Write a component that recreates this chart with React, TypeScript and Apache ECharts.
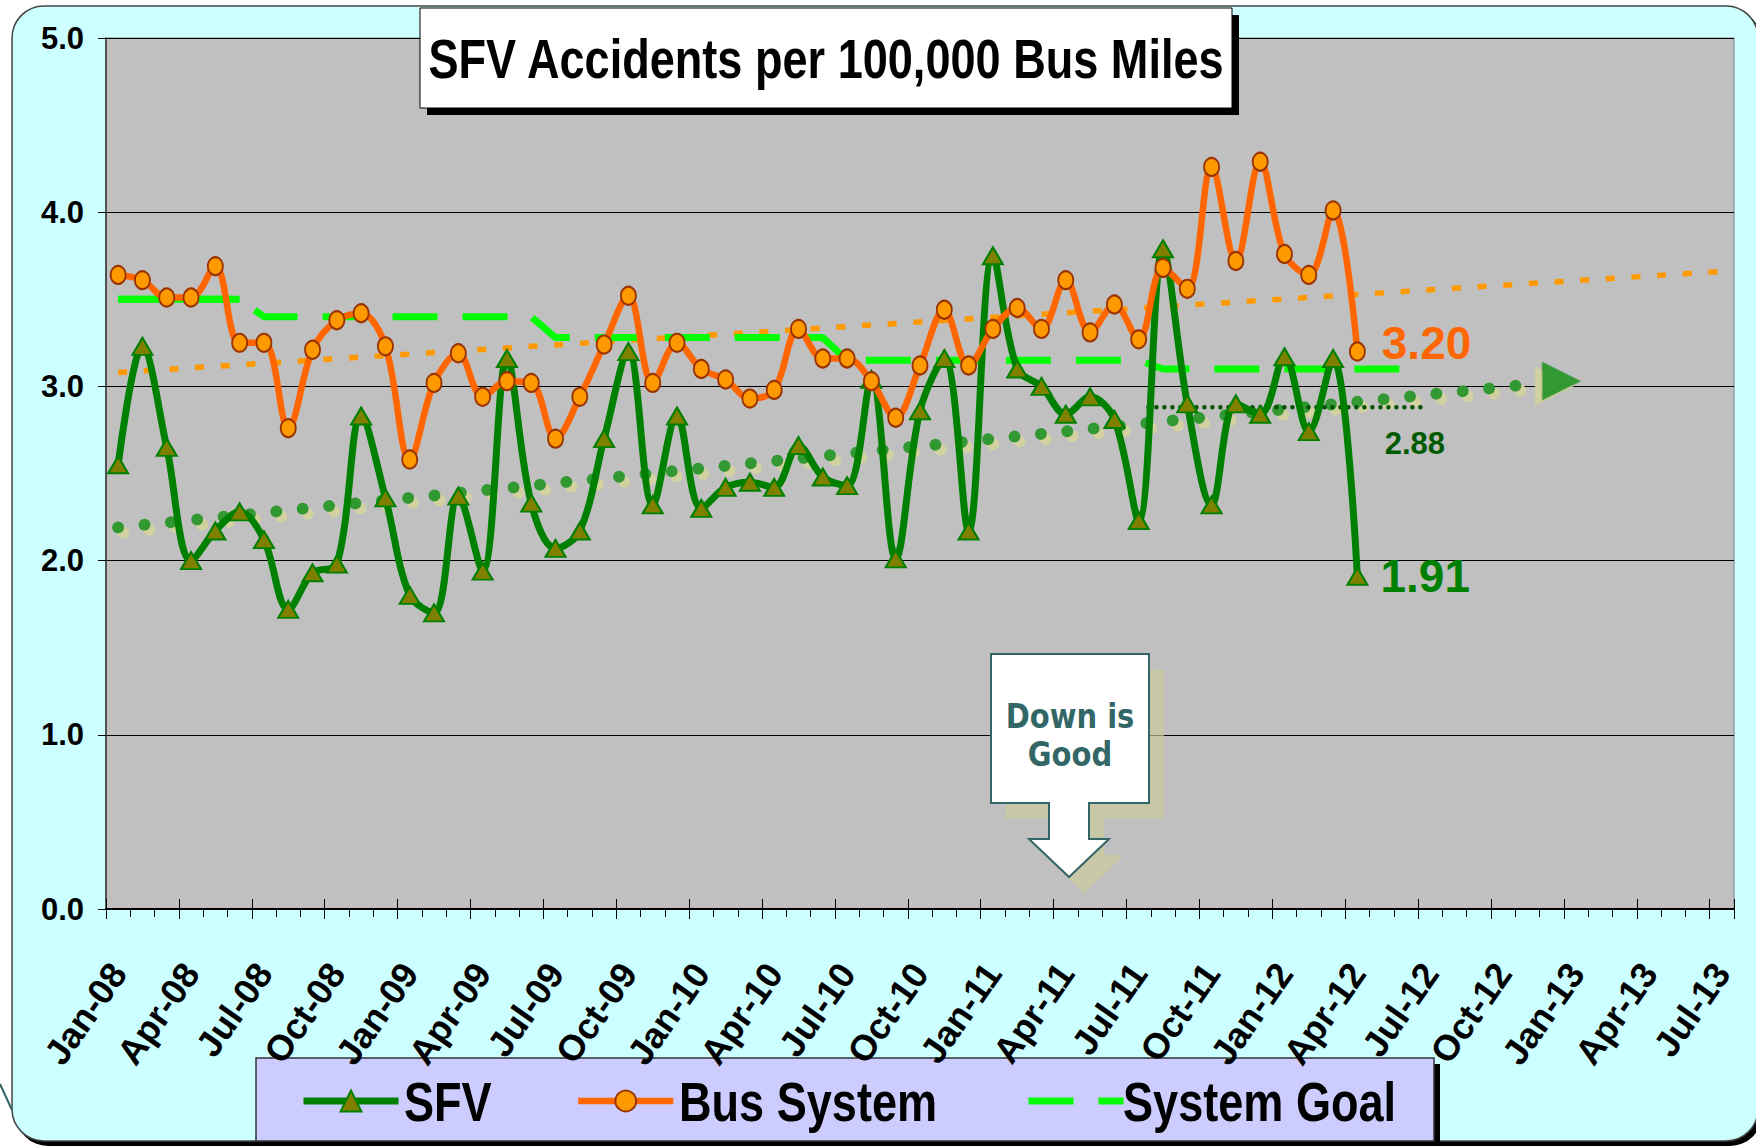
import React, { useEffect, useRef } from 'react';
import * as echarts from 'echarts';

const months = [
  'Jan-08', 'Feb-08', 'Mar-08', 'Apr-08', 'May-08', 'Jun-08', 'Jul-08', 'Aug-08', 'Sep-08', 'Oct-08', 'Nov-08', 'Dec-08',
  'Jan-09', 'Feb-09', 'Mar-09', 'Apr-09', 'May-09', 'Jun-09', 'Jul-09', 'Aug-09', 'Sep-09', 'Oct-09', 'Nov-09', 'Dec-09',
  'Jan-10', 'Feb-10', 'Mar-10', 'Apr-10', 'May-10', 'Jun-10', 'Jul-10', 'Aug-10', 'Sep-10', 'Oct-10', 'Nov-10', 'Dec-10',
  'Jan-11', 'Feb-11', 'Mar-11', 'Apr-11', 'May-11', 'Jun-11', 'Jul-11', 'Aug-11', 'Sep-11', 'Oct-11', 'Nov-11', 'Dec-11',
  'Jan-12', 'Feb-12', 'Mar-12', 'Apr-12', 'May-12', 'Jun-12', 'Jul-12', 'Aug-12', 'Sep-12', 'Oct-12', 'Nov-12', 'Dec-12',
  'Jan-13', 'Feb-13', 'Mar-13', 'Apr-13', 'May-13', 'Jun-13', 'Jul-13',
];

const sfv = [
  2.55, 3.23, 2.65, 2.0, 2.17, 2.28, 2.12, 1.72, 1.93, 1.98, 2.83, 2.36,
  1.8, 1.7, 2.37, 1.94, 3.16, 2.33, 2.07, 2.17, 2.7, 3.2, 2.32, 2.83,
  2.3, 2.42, 2.45, 2.42, 2.66, 2.48, 2.43, 3.04, 2.01, 2.86, 3.16, 2.17,
  3.75, 3.1, 3.0, 2.84, 2.94, 2.81, 2.23, 3.79, 2.9, 2.32, 2.9, 2.84,
  3.17, 2.74, 3.16, 1.91,
];

const busSystem = [
  3.64, 3.61, 3.51, 3.51, 3.69, 3.25, 3.25, 2.76, 3.21, 3.38, 3.42, 3.23,
  2.58, 3.02, 3.19, 2.94, 3.03, 3.02, 2.7, 2.94, 3.24, 3.52, 3.02, 3.25,
  3.1, 3.04, 2.93, 2.98, 3.33, 3.16, 3.16, 3.03, 2.82, 3.12, 3.44, 3.12,
  3.33, 3.45, 3.33, 3.61, 3.31, 3.47, 3.27, 3.68, 3.56, 4.26, 3.72, 4.29,
  3.76, 3.64, 4.01, 3.2,
];

const systemGoal = [
  3.5, 3.5, 3.5, 3.5, 3.5, 3.5,
  3.4, 3.4, 3.4, 3.4, 3.4, 3.4, 3.4, 3.4, 3.4, 3.4, 3.4, 3.4,
  3.28, 3.28, 3.28, 3.28, 3.28, 3.28, 3.28, 3.28, 3.28, 3.28, 3.28, 3.28,
  3.15, 3.15, 3.15, 3.15, 3.15, 3.15, 3.15, 3.15, 3.15, 3.15, 3.15, 3.15, 3.15,
  3.1, 3.1, 3.1, 3.1, 3.1, 3.1, 3.1, 3.1, 3.1, 3.1, 3.1,
];
const goalSolidCount = 6;

// trend lines, positions in month index (0 = Jan-08)
const busTrendX = [0, 66];
const busTrendY = [3.08, 3.66];
const sfvTrendX = [0, 59.4];
const sfvTrendY = [2.19, 3.03];
const sfvAvgX = [42.4, 53.9];
const sfvAvgY = [2.88, 2.88];

const yTicks = [0, 1, 2, 3, 4, 5];
const legendNames = ['SFV', 'Bus System', 'System Goal'];

const SANS = "'Liberation Sans', Arial, sans-serif";
const VERD = "'DejaVu Sans', Verdana, sans-serif";

const pairs = (xs: number[], ys: number[]) => xs.map((x, i) => [x, ys[i]]);

function buildOption() {
  const lastIdx = sfv.length - 1;
  const sfvData = sfv.map((v, i) =>
    i === lastIdx
      ? {
          value: v,
          label: {
            show: true,
            position: 'right',
            distance: 12,
            formatter: (p: any) => Number(p.value).toFixed(2),
            fontFamily: SANS,
            fontWeight: 'bold',
            fontSize: 46,
            color: '#008000',
          },
        }
      : v,
  );
  const busData = busSystem.map((v, i) =>
    i === busSystem.length - 1
      ? {
          value: v,
          label: {
            show: true,
            position: 'right',
            distance: 16,
            offset: [0, -9],
            formatter: (p: any) => Number(p.value).toFixed(2),
            fontFamily: SANS,
            fontWeight: 'bold',
            fontSize: 46,
            color: '#FF6600',
          },
        }
      : v,
  );
  const goalSolid = systemGoal.slice(0, goalSolidCount);

  const sfvTrend = pairs(sfvTrendX, sfvTrendY).map((p, i, arr) =>
    i === arr.length - 1
      ? {
          value: p,
          symbol: 'triangle',
          symbolSize: [39, 39],
          symbolRotate: -90,
          itemStyle: {
            color: '#339933',
            shadowColor: '#d2d2a0',
            shadowOffsetX: 5,
            shadowOffsetY: 7,
            shadowBlur: 0,
          },
        }
      : { value: p, symbol: 'none' },
  );

  const avgData = pairs(sfvAvgX, sfvAvgY).map((p, i, arr) =>
    i === arr.length - 1
      ? {
          value: p,
          symbol: 'circle',
          symbolSize: 2,
          itemStyle: { color: 'rgba(0,0,0,0)' },
          label: {
            show: true,
            position: 'bottom',
            distance: 20,
            offset: [-13, 0],
            formatter: (q: any) => Number(q.value[1]).toFixed(2),
            fontFamily: SANS,
            fontWeight: 'bold',
            fontSize: 31,
            color: '#005a00',
            textShadowColor: '#d2d2a0',
            textShadowOffsetX: 6,
            textShadowOffsetY: 5,
            textShadowBlur: 0,
          },
        }
      : { value: p, symbol: 'none' },
  );

  const callout = [
    [991, 654], [1149, 654], [1149, 803], [1089, 803], [1089, 839], [1109, 839],
    [1069, 877], [1029, 839], [1049, 839], [1049, 803], [991, 803],
  ];
  const calloutShadow = callout.map(([x, y]) => [x + 15, y + 16]);

  const catAxisBase = {
    type: 'category',
    data: months,
    gridIndex: 0,
    position: 'bottom',
    boundaryGap: true,
  };

  const legendIconLeft = [300, 575, 1025];
  const legendTextLeft = [404, 679, 1123];
  const legendCommon = {
    top: 1088,
    padding: 0,
    itemWidth: 95,
    itemHeight: 26,
    selectedMode: false,
    z: 10,
    formatter: () => '',
    lineStyle: { width: 'inherit' },
    textStyle: { fontSize: 12 },
  };

  return {
    animation: false,
    backgroundColor: '#ffffff',
    textStyle: { fontFamily: SANS },
    grid: {
      left: 106,
      top: 38,
      width: 1628,
      height: 871,
      show: true,
      backgroundColor: '#C0C0C0',
      borderColor: '#808080',
      borderWidth: 1,
      z: 0,
    },
    xAxis: [
      {
        ...catAxisBase,
        axisLine: { show: true, onZero: false, lineStyle: { color: '#000', width: 2 } },
        axisTick: { show: true, interval: 2, length: 10, lineStyle: { color: '#000', width: 1 } },
        axisLabel: {
          interval: 2,
          rotate: 55,
          margin: 58,
          fontFamily: SANS,
          fontWeight: 'bold',
          fontSize: 36,
          color: '#000',
        },
        splitLine: { show: false },
      },
      {
        ...catAxisBase,
        axisLine: { show: false, onZero: false },
        axisTick: { show: true, interval: 0, length: 8, lineStyle: { color: '#000', width: 1 } },
        axisLabel: { show: false },
        splitLine: { show: false },
      },
      {
        ...catAxisBase,
        axisLine: { show: false, onZero: false },
        axisTick: { show: true, inside: true, interval: 2, length: 10, lineStyle: { color: '#000', width: 1 } },
        axisLabel: { show: false },
        splitLine: { show: false },
      },
      {
        type: 'value',
        gridIndex: 0,
        position: 'top',
        min: -0.5,
        max: 66.5,
        show: false,
        axisLine: { onZero: false },
        splitLine: { show: false },
      },
    ],
    yAxis: {
      type: 'value',
      min: yTicks[0],
      max: yTicks[yTicks.length - 1],
      interval: 1,
      axisLine: { show: true, onZero: false, lineStyle: { color: '#333', width: 1.5 } },
      axisTick: { show: true, length: 8, lineStyle: { color: '#000', width: 1 } },
      axisLabel: {
        margin: 22,
        formatter: (v: number) => v.toFixed(1),
        fontFamily: SANS,
        fontWeight: 'bold',
        fontSize: 31,
        color: '#000',
      },
      splitLine: { show: true, lineStyle: { color: '#000', width: 1 } },
    },
    legend: legendNames.map((n, i) => ({ ...legendCommon, data: [n], left: legendIconLeft[i] })),
    graphic: [
      { type: 'rect', z: -10, silent: true, shape: { x: 16, y: 10, width: 1746, height: 1136, r: 32 }, style: { fill: '#000' } },
      { type: 'rect', z: -9, silent: true, shape: { x: 12, y: 6, width: 1746, height: 1135, r: 32 }, style: { fill: '#CCFFFF', stroke: '#444', lineWidth: 1.5 } },
      { type: 'line', z: -8, silent: true, shape: { x1: 0, y1: 1084, x2: 12, y2: 1110 }, style: { stroke: '#336666', lineWidth: 2 } },
      // legend box
      { type: 'rect', z: -5, silent: true, shape: { x: 262, y: 1064, width: 1178, height: 90 }, style: { fill: '#000' } },
      { type: 'rect', z: -4, silent: true, shape: { x: 256, y: 1058, width: 1178, height: 83 }, style: { fill: '#CCCCFF', stroke: '#333', lineWidth: 1.5 } },
      ...legendNames.map((n, i) => ({
        type: 'text', z: 11, silent: true, x: legendTextLeft[i], y: 1102, scaleX: 0.82,
        style: { text: n, fontFamily: SANS, fontWeight: 'bold', fontSize: 55, fill: '#000', textAlign: 'left', textVerticalAlign: 'middle' },
      })),
      // title
      { type: 'rect', z: 20, silent: true, shape: { x: 427, y: 15, width: 812, height: 100 }, style: { fill: '#000' } },
      { type: 'rect', z: 21, silent: true, shape: { x: 420, y: 8, width: 812, height: 100 }, style: { fill: '#fff', stroke: '#000', lineWidth: 1 } },
      {
        type: 'text', z: 22, silent: true, x: 826, y: 59, scaleX: 0.82,
        style: {
          text: 'SFV Accidents per 100,000 Bus Miles',
          fontFamily: SANS, fontWeight: 'bold', fontSize: 55, fill: '#000',
          textAlign: 'center', textVerticalAlign: 'middle',
        },
      },
      // Down is Good callout
      { type: 'polygon', z: 20, silent: true, shape: { points: calloutShadow }, style: { fill: 'rgba(204,204,153,0.65)' } },
      { type: 'polygon', z: 21, silent: true, shape: { points: callout }, style: { fill: '#fff', stroke: '#336666', lineWidth: 2 } },
      {
        type: 'text', z: 22, silent: true, x: 1070, y: 716, scaleY: 1.15,
        style: { text: 'Down is', fontFamily: VERD, fontWeight: 'bold', fontSize: 29, fill: '#336666', textAlign: 'center', textVerticalAlign: 'middle' },
      },
      {
        type: 'text', z: 22, silent: true, x: 1070, y: 754, scaleY: 1.15,
        style: { text: 'Good', fontFamily: VERD, fontWeight: 'bold', fontSize: 29, fill: '#336666', textAlign: 'center', textVerticalAlign: 'middle' },
      },
    ],
    series: [
      {
        name: 'Bus trend',
        type: 'line',
        xAxisIndex: 3,
        data: pairs(busTrendX, busTrendY),
        symbol: 'none',
        silent: true,
        z: 1,
        lineStyle: { color: '#FF9900', width: 5.5, type: [9, 16.7], cap: 'butt' },
      },
      {
        name: 'SFV trend',
        type: 'line',
        xAxisIndex: 3,
        data: sfvTrend,
        symbol: 'triangle',
        showSymbol: true,
        showAllSymbol: true,
        silent: true,
        z: 1,
        lineStyle: {
          color: '#339933', width: 12, type: [0, 26.5], cap: 'round',
          shadowColor: '#d2d2a0', shadowOffsetX: 5, shadowOffsetY: 5, shadowBlur: 0,
        },
      },
      {
        name: 'SFV average',
        type: 'line',
        xAxisIndex: 3,
        data: avgData,
        symbol: 'none',
        showSymbol: true,
        showAllSymbol: true,
        silent: true,
        z: 1,
        lineStyle: { color: '#005000', width: 4.5, type: [0, 8], cap: 'round' },
      },
      {
        name: 'Goal solid',
        type: 'line',
        data: goalSolid,
        symbol: 'none',
        silent: true,
        z: 2,
        lineStyle: { color: '#00FF00', width: 7, type: 'solid', cap: 'butt' },
      },
      {
        name: 'System Goal',
        type: 'line',
        data: systemGoal,
        symbol: 'none',
        silent: true,
        z: 2,
        itemStyle: { color: 'rgba(0,0,0,0)' },
        lineStyle: { color: '#00FF00', width: 7, type: [45, 25], dashOffset: 0, cap: 'butt' },
      },
      {
        name: 'SFV',
        type: 'line',
        data: sfvData,
        smooth: 0.35,
        symbol: 'triangle',
        symbolSize: [20, 17],
        showAllSymbol: true,
        z: 3,
        lineStyle: { color: '#008000', width: 7 },
        itemStyle: { color: '#808000', borderColor: '#008000', borderWidth: 2 },
      },
      {
        name: 'Bus System',
        type: 'line',
        data: busData,
        smooth: 0.35,
        symbol: 'circle',
        symbolSize: [15, 18],
        showAllSymbol: true,
        z: 4,
        lineStyle: { color: '#FF6600', width: 6.5 },
        itemStyle: { color: '#FF9900', borderColor: '#993300', borderWidth: 2 },
      },
    ],
  };
}

export default function App() {
  const ref = useRef<HTMLDivElement>(null);
  useEffect(() => {
    if (!ref.current) return;
    const chart = echarts.init(ref.current, null, { renderer: 'svg' });
    chart.setOption(buildOption() as any);
    return () => chart.dispose();
  }, []);
  return (
    <div
      ref={ref}
      style={{ position: 'absolute', left: 0, top: 0, width: 1756, height: 1146, background: '#fff' }}
    />
  );
}
